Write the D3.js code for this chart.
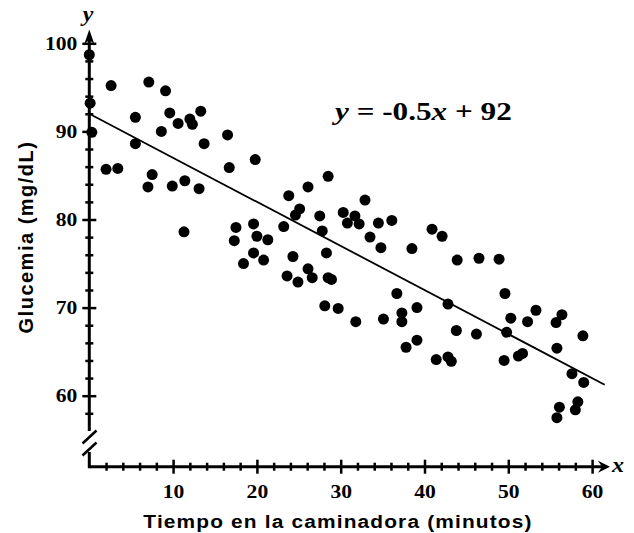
<!DOCTYPE html>
<html>
<head>
<meta charset="utf-8">
<script src="https://cdn.jsdelivr.net/npm/d3@7"></script>
<style>
body { margin: 0; background: #ffffff; }
</style>
</head>
<body>
<div id="chart"></div>
<script>
// data (minutes, mg/dL)
var timeData = [0, 0.1, 0.3, 2.6, 7.1, 9.1, 5.5, 9.6, 12.0, 12.3,
    10.6, 13.3, 8.6, 5.5, 13.7, 16.5, 19.8, 2.0, 3.4, 7.5,
    16.7, 11.4, 7.0, 9.9, 13.1, 11.3, 17.5, 19.6, 17.3, 20.0,
    19.6, 28.5, 26.1, 23.8, 32.9, 25.1, 24.6, 27.5, 30.3, 31.7,
    30.8, 32.2, 34.5, 36.1, 40.9, 42.1, 21.3, 23.2, 27.8, 33.5,
    34.8, 38.5, 24.3, 28.3, 18.4, 20.8, 23.6, 24.9, 26.1, 26.6,
    28.5, 28.9, 28.1, 29.7, 31.8, 35.1, 36.7, 37.3, 37.3, 39.1,
    37.8, 39.1, 41.4, 43.9, 46.5, 48.9, 49.6, 42.8, 53.3, 50.3,
    52.3, 56.4, 55.7, 43.8, 46.2, 49.8, 58.9, 55.8, 42.8, 43.2,
    49.5, 51.2, 51.7, 57.6, 59.0, 56.1, 58.3, 58.0, 55.8];
var glucoseData = [98.7, 93.2, 89.9, 95.2, 95.6, 94.6, 91.6, 92.1, 91.4, 90.8,
    90.9, 92.3, 90.0, 88.6, 88.6, 89.6, 86.8, 85.7, 85.8, 85.1,
    85.9, 84.4, 83.7, 83.8, 83.5, 78.6, 79.1, 79.5, 77.6, 78.1,
    76.2, 84.9, 83.7, 82.7, 82.2, 81.2, 80.5, 80.4, 80.8, 80.4,
    79.6, 79.5, 79.6, 79.9, 78.9, 78.1, 77.7, 79.2, 78.7, 78.0,
    76.8, 76.7, 75.8, 76.2, 75.0, 75.4, 73.6, 72.9, 74.4, 73.4,
    73.4, 73.2, 70.2, 69.9, 68.4, 68.7, 71.6, 69.4, 68.4, 70.0,
    65.5, 66.3, 64.1, 75.4, 75.6, 75.5, 71.6, 70.4, 69.7, 68.8,
    68.4, 69.2, 68.3, 67.4, 67.0, 67.2, 66.8, 65.4, 64.4, 63.9,
    64.0, 64.5, 64.8, 62.5, 61.5, 58.7, 59.3, 58.4, 57.5];

var xMajor = [10, 20, 30, 40, 50, 60];
var yMajor = [60, 70, 80, 90, 100];
var fitSlope = -0.5;
var fitIntercept = 92;
var fitRange = [0, 61.5];

var points = timeData.map(function (d, i) {
    return {t: d, g: glucoseData[i]};
});

// dimensions
var width = 634;
var height = 533;
var serif = "'Liberation Serif', 'Times New Roman', serif";
var sans = "'Liberation Sans', Arial, sans-serif";
var stretch = "scale(1.2,1)";   // the source text is drawn a bit wide

var svg = d3.select("#chart")
    .append("svg")
    .attr("width", width)
    .attr("height", height);

var x = d3.scaleLinear().domain([0, 60]).range([89.3, 592.1]);
var y = d3.scaleLinear().domain([60, 100]).range([395.7, 43.3]);
var axisY = 466.7;
var x0 = x(0);

var xMinor = d3.range(2, 61, 2).filter(function (d) { return d % 10 != 0; });
var yMinor = d3.range(58, 100, 2).filter(function (d) { return d % 10 != 0; });

// x axis
var xAxis = svg.append("g")
    .attr("transform", "translate(0," + axisY + ")");
xAxis.call(d3.axisBottom(x).tickValues(xMajor).tickSize(7).tickPadding(11.5));
xAxis.append("g")
    .call(d3.axisBottom(x).tickValues(xMinor).tickSize(4).tickFormat(""));
xAxis.selectAll(".domain").remove();
xAxis.selectAll(".tick line")
    .attr("y1", function () { return -d3.select(this).attr("y2"); })
    .attr("stroke", "#000")
    .attr("stroke-width", 2.5);
xAxis.selectAll(".tick text")
    .attr("transform", stretch)
    .attr("font-family", serif)
    .attr("font-weight", "bold")
    .attr("font-size", "18px")
    .attr("fill", "#000");

// y axis
var yAxis = svg.append("g")
    .attr("transform", "translate(" + x0 + ",0)");
yAxis.call(d3.axisLeft(y).tickValues(yMajor).tickSize(7).tickPadding(3));
yAxis.append("g")
    .call(d3.axisLeft(y).tickValues(yMinor).tickSize(4).tickFormat(""));
yAxis.selectAll(".domain").remove();
yAxis.selectAll(".tick line")
    .attr("x1", function () { return -d3.select(this).attr("x2"); })
    .attr("stroke", "#000")
    .attr("stroke-width", 2.5);
yAxis.selectAll(".tick text")
    .attr("transform", stretch)
    .attr("font-family", serif)
    .attr("font-weight", "bold")
    .attr("font-size", "18px")
    .attr("fill", "#000");

// axis lines, arrows and the break
var axisLines = svg.append("g")
    .attr("stroke", "#000")
    .attr("stroke-width", 3)
    .attr("fill", "none");
axisLines.append("line")
    .attr("x1", x0).attr("x2", 603)
    .attr("y1", axisY).attr("y2", axisY);
axisLines.append("line")
    .attr("x1", x0).attr("x2", x0)
    .attr("y1", 38).attr("y2", 431);
axisLines.append("line")
    .attr("x1", x0).attr("x2", x0)
    .attr("y1", 452).attr("y2", axisY + 1.5);
axisLines.append("line")
    .attr("x1", 82.5).attr("y1", 443.5)
    .attr("x2", 96.5).attr("y2", 430.5)
    .attr("stroke-width", 2.5);
axisLines.append("line")
    .attr("x1", 82.5).attr("y1", 455.5)
    .attr("x2", 96.5).attr("y2", 442.5)
    .attr("stroke-width", 2.5);

svg.append("path")
    .attr("d", "M" + x0 + ",29.5 L" + (x0 - 5) + ",44 L" + x0 + ",40 L" + (x0 + 5) + ",44 Z")
    .attr("fill", "#000");
svg.append("path")
    .attr("d", "M610," + axisY + " L598," + (axisY - 6) + " L602," + axisY + " L598," + (axisY + 6) + " Z")
    .attr("fill", "#000");

svg.append("text")
    .attr("transform", "translate(88,21) " + stretch)
    .attr("text-anchor", "middle")
    .attr("font-family", serif)
    .attr("font-style", "italic")
    .attr("font-weight", "bold")
    .attr("font-size", "20px")
    .text("y");
svg.append("text")
    .attr("transform", "translate(618,472) " + stretch)
    .attr("text-anchor", "middle")
    .attr("font-family", serif)
    .attr("font-style", "italic")
    .attr("font-weight", "bold")
    .attr("font-size", "20px")
    .text("x");

// fitted line
svg.append("path")
    .datum(fitRange)
    .attr("d", d3.line()
        .x(function (d) { return x(d); })
        .y(function (d) { return y(fitSlope * d + fitIntercept); }))
    .attr("stroke", "#000")
    .attr("stroke-width", 1.8)
    .attr("fill", "none");

// points
svg.append("g")
    .selectAll("circle")
    .data(points)
    .enter()
    .append("circle")
    .attr("cx", function (d) { return x(d.t); })
    .attr("cy", function (d) { return y(d.g); })
    .attr("r", 5.5)
    .attr("fill", "#000");

// equation
var eq = svg.append("text")
    .attr("transform", "translate(335,120) " + stretch)
    .attr("font-family", serif)
    .attr("font-weight", "bold")
    .attr("font-size", "26px")
    .attr("fill", "#000");
eq.append("tspan").attr("font-style", "italic").text("y");
eq.append("tspan").text(" = -0.5");
eq.append("tspan").attr("font-style", "italic").text("x");
eq.append("tspan").text(" + 92");

// axis titles
svg.append("text")
    .attr("transform", "translate(338,528) scale(1.16,1)")
    .attr("text-anchor", "middle")
    .attr("font-family", sans)
    .attr("font-weight", "bold")
    .attr("font-size", "18px")
    .attr("letter-spacing", "1px")
    .text("Tiempo en la caminadora (minutos)");
svg.append("text")
    .attr("transform", "translate(33,237) rotate(-90)")
    .attr("text-anchor", "middle")
    .attr("font-family", sans)
    .attr("font-weight", "bold")
    .attr("font-size", "20px")
    .attr("letter-spacing", "1.5px")
    .text("Glucemia (mg/dL)");
</script>
</body>
</html>
